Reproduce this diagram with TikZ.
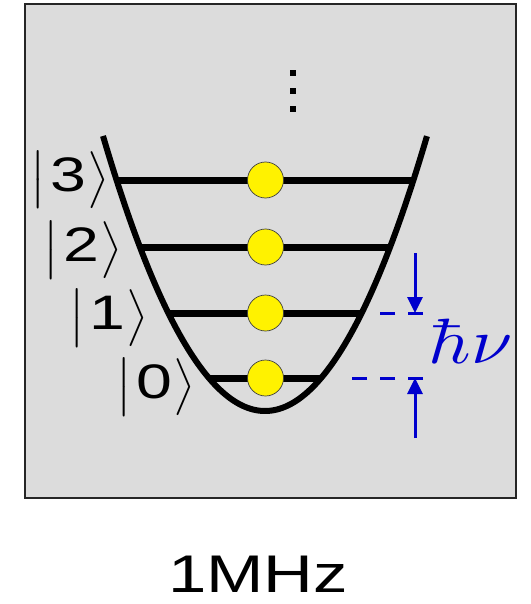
\documentclass[tikz,border=0pt]{standalone}
\usepackage[no-math]{fontspec}
\setmainfont{Liberation Sans}
\usetikzlibrary{arrows.meta}
\definecolor{boxgray}{RGB}{220,220,220}
\definecolor{hbblue}{RGB}{0,0,205}
\tikzset{
  frame/.style={draw=black!85, line width=2pt, fill=boxgray},
  well/.style={line width=6pt},
  level/.style={line width=7pt},
  ball/.style={circle, minimum size=36pt, inner sep=0pt, fill=yellow, draw=black!75, line width=0.7pt},
  dotsq/.style={rectangle, minimum size=6.5pt, inner sep=0pt, fill=black},
  ketlabel/.style={inner sep=0pt, xscale=4.6, yscale=4.75},
  dashline/.style={hbblue, line width=3pt, dash pattern=on 15pt off 13pt},
  gaparrow/.style={hbblue, line width=3pt, -{Triangle[length=16pt,width=15pt]}},
}
\newcommand{\ketlab}[1]{$\big|$\kern0.1em\scalebox{1.4}[1.02]{#1}\kern0.02em$\big\rangle$}
\begin{document}
\begin{tikzpicture}[x=1pt,y=-1pt]
\useasboundingbox (0,0) rectangle (530,604);
\draw[frame] (25,4) rectangle (516,498);
% potential well
\draw[well] plot[domain=-1.62:1.62, samples=120] ({265+100*\x},{411-104.8*\x*\x});
% levels
\coordinate (l3a) at (116.5,180); \coordinate (l3b) at (413.5,180);
\coordinate (l2a) at (139,247);   \coordinate (l2b) at (391,247);
\coordinate (l1a) at (168,313);   \coordinate (l1b) at (362,313);
\coordinate (l0a) at (209,378);   \coordinate (l0b) at (321,378);
\draw[level] (l3a) -- (l3b);
\draw[level] (l2a) -- (l2b);
\draw[level] (l1a) -- (l1b);
\draw[level] (l0a) -- (l0b);
\node[ball] (b3) at (265.5,180) {};
\node[ball] (b2) at (265.5,247) {};
\node[ball] (b1) at (265.5,313) {};
\node[ball] (b0) at (265.5,378) {};
% kets
\node[ketlabel] (k3) at (70,180) {\ketlab{3}};
\node[ketlabel] (k2) at (83,250) {\ketlab{2}};
\node[ketlabel] (k1) at (109,318) {\ketlab{1}};
\node[ketlabel] (k0) at (156,387) {\ketlab{0}};
% vertical dots
\node[dotsq] (d1) at (293,73) {};
\node[dotsq] (d2) at (293,91) {};
\node[dotsq] (d3) at (293,109) {};
% energy gap
\coordinate (u1) at (423,313); \coordinate (u0) at (380,313);
\coordinate (w1) at (423,378); \coordinate (w0) at (352,378);
\draw[dashline] (u1) -- (u0);
\draw[dashline] (w1) -- (w0);
\coordinate (at) at (415,253); \coordinate (ah) at (415,313);
\coordinate (bt) at (415,438); \coordinate (bh) at (415,378);
\draw[gaparrow] (at) -- (ah);
\draw[gaparrow] (bt) -- (bh);
\node[hbblue, inner sep=0pt, anchor=base west, xscale=7.4, yscale=6.4] (hnu) at (427,363) {$\hbar\nu$};
% caption
\node[inner sep=0pt, xscale=1.3, font=\fontsize{53}{53}\selectfont] (cap) at (258,574) {1MHz};
\end{tikzpicture}
\end{document}
